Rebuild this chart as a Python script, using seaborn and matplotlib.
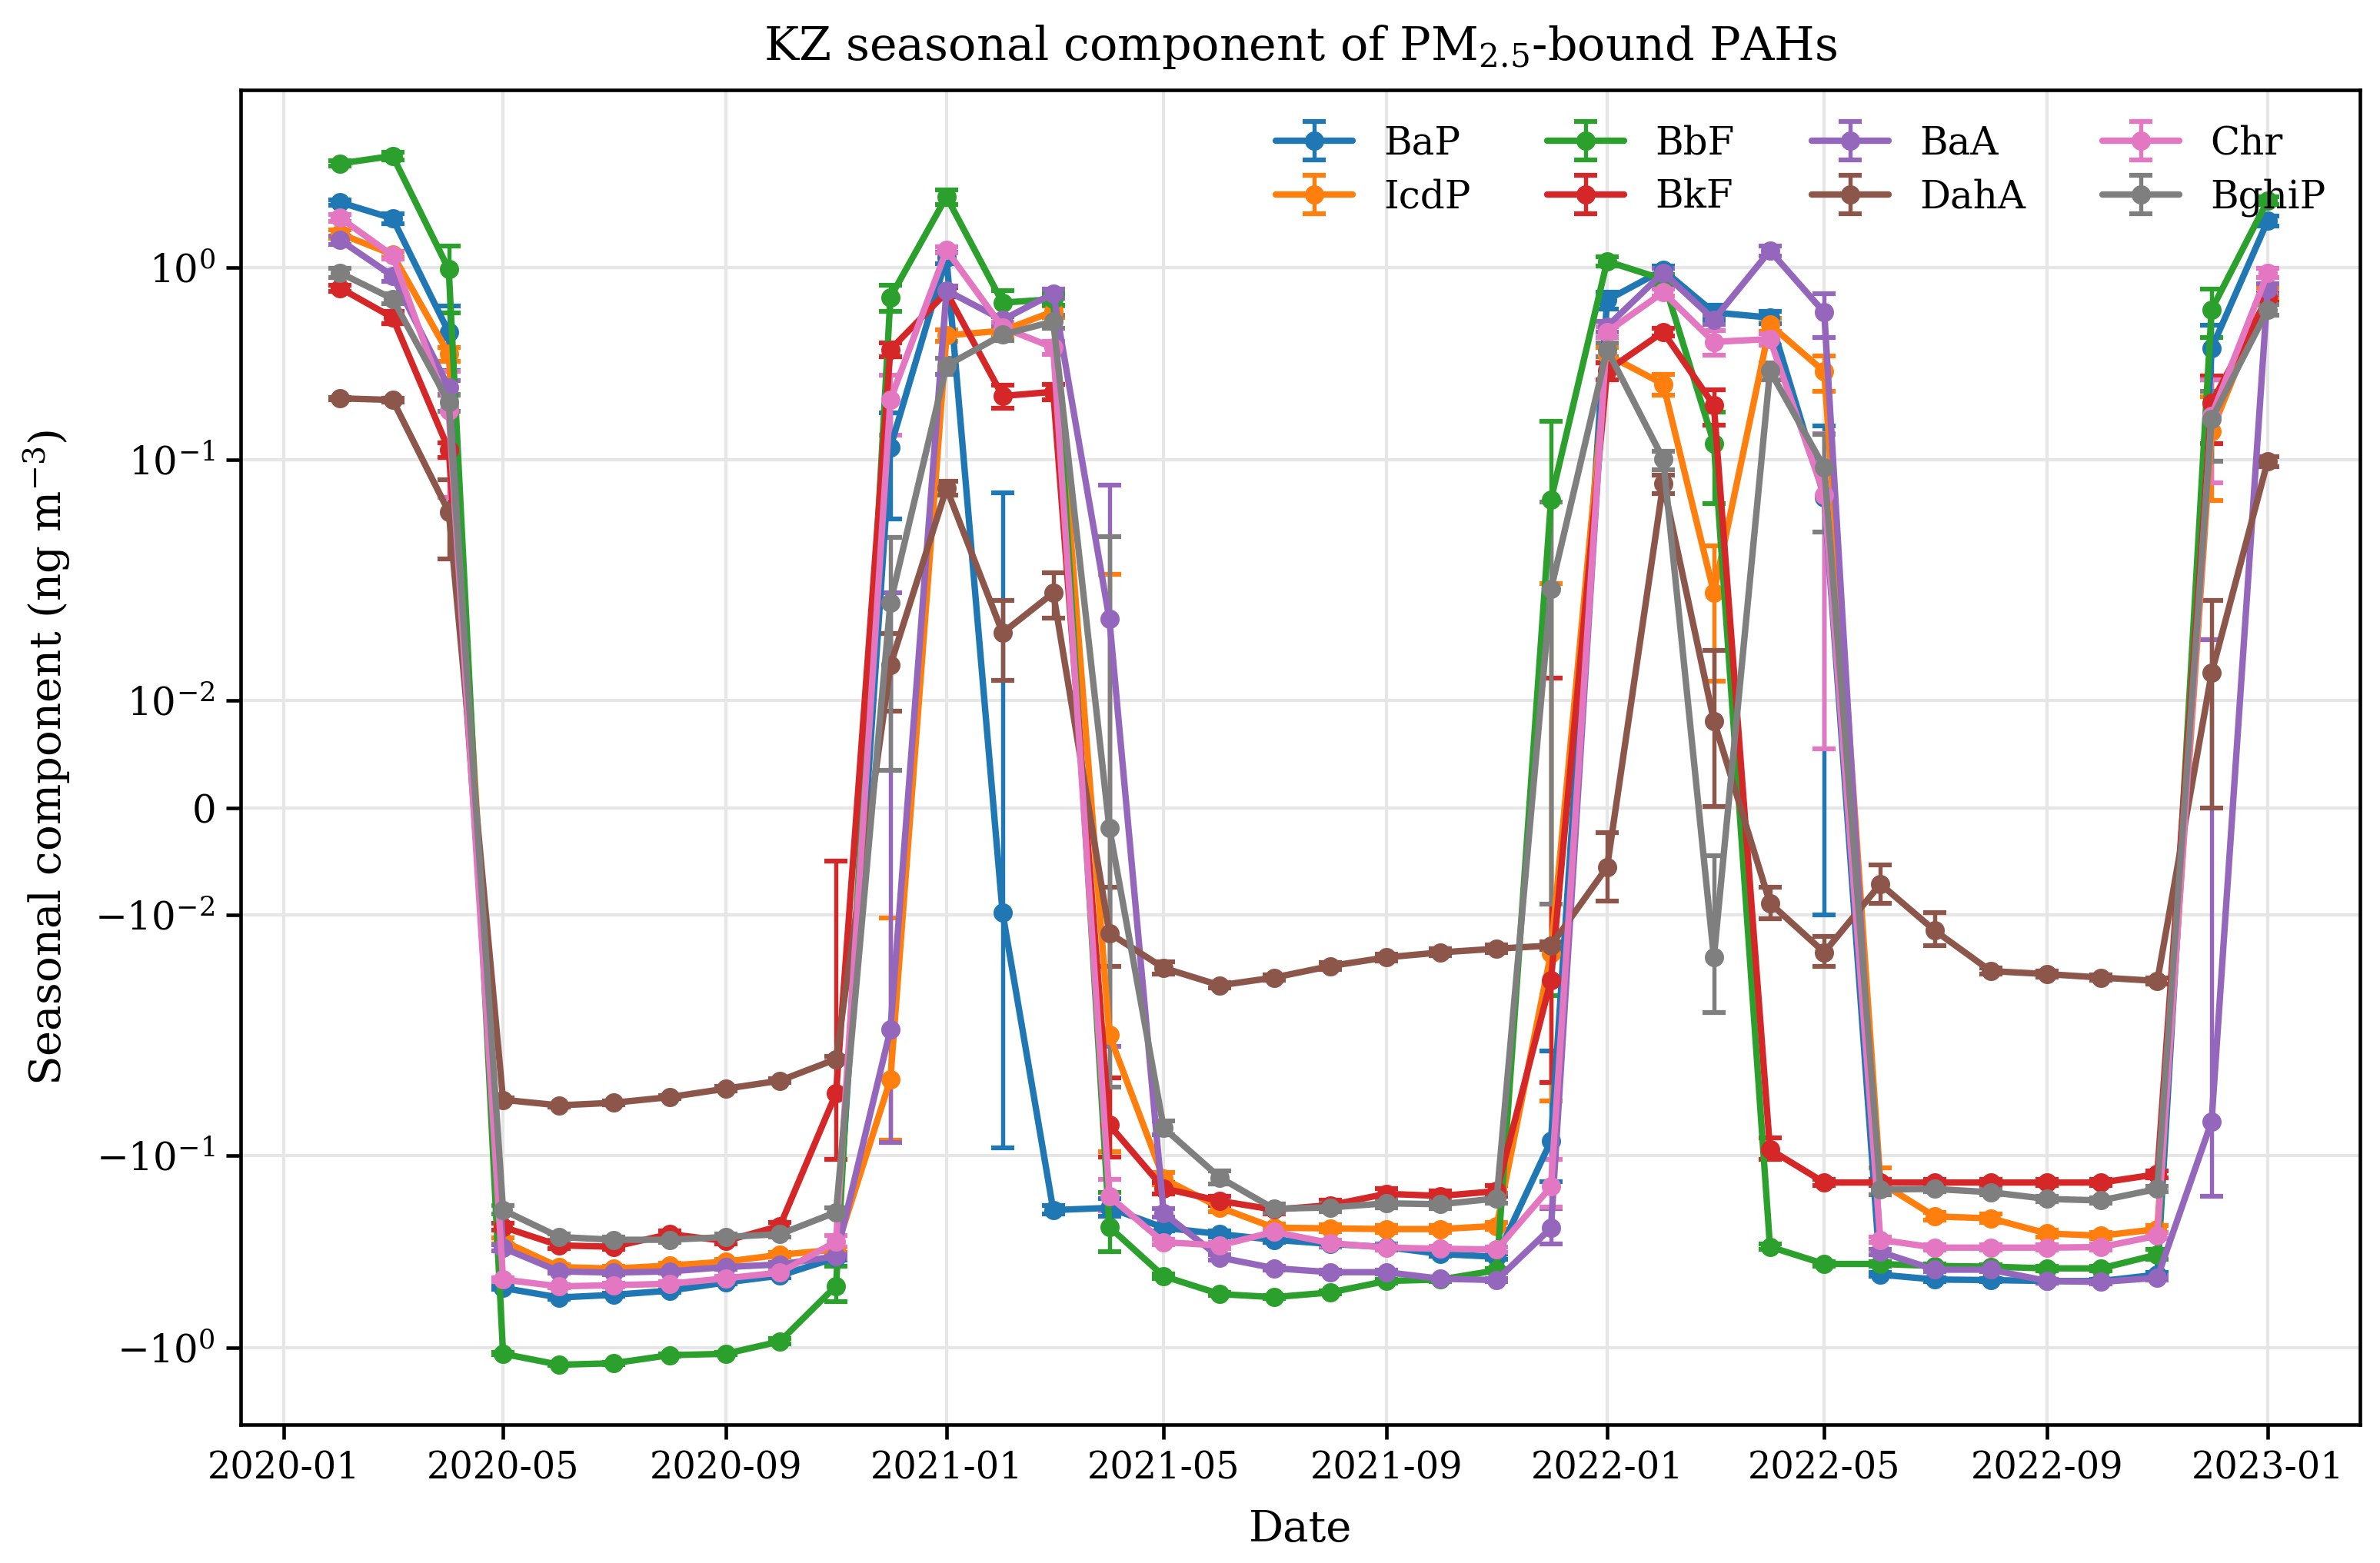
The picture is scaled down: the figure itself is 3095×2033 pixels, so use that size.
import numpy as np
import pandas as pd
import matplotlib
matplotlib.use("Agg")
import matplotlib.pyplot as plt
import matplotlib.dates as mdates
from matplotlib.ticker import FixedLocator, FuncFormatter, NullLocator
import seaborn as sns

# monthly KZ seasonal components (ng m-3), Feb 2020 .. Jan 2023
months = pd.date_range("2020-02-01", "2023-01-01", freq="MS")

BaP = [2.66, 2.09, 0.461, -0.488, -0.547, -0.530, -0.504, -0.457, -0.421, -0.340, 0.116, 1.16,
       -0.0098, -0.192, -0.187, -0.237, -0.256, -0.274, -0.288, -0.299, -0.325, -0.336, -0.0867, 0.678,
       0.973, 0.585, 0.55, 0.07, -0.416, -0.441, -0.444, -0.449, -0.449, -0.416, 0.380, 2.02]
IcdP = [1.66, 1.22, 0.356, -0.278, -0.380, -0.387, -0.373, -0.356, -0.328, -0.308, -0.0483, 0.444,
        0.470, 0.592, -0.0315, -0.132, -0.186, -0.237, -0.239, -0.241, -0.241, -0.232, -0.0144, 0.353,
        0.248, 0.028, 0.505, 0.288, -0.138, -0.207, -0.212, -0.254, -0.261, -0.241, 0.141, 0.738]
BbF = [4.76, 5.33, 0.98, -1.093, -1.288, -1.259, -1.116, -1.093, -0.926, -0.476, 0.701, 2.89,
       0.658, 0.685, -0.235, -0.424, -0.525, -0.545, -0.515, -0.449, -0.441, -0.395, 0.0684, 1.10,
       0.87, 0.122, -0.298, -0.366, -0.366, -0.375, -0.378, -0.386, -0.386, -0.327, 0.605, 2.74]
BkF = [0.783, 0.550, 0.113, -0.235, -0.293, -0.298, -0.256, -0.278, -0.232, -0.055, 0.375, 0.745,
       0.215, 0.226, -0.0745, -0.148, -0.172, -0.191, -0.181, -0.158, -0.162, -0.153, -0.0186, 0.291,
       0.463, 0.192, -0.0943, -0.138, -0.138, -0.138, -0.138, -0.138, -0.138, -0.125, 0.198, 0.699]
BaA = [1.51, 0.906, 0.238, -0.302, -0.400, -0.406, -0.400, -0.380, -0.368, -0.334, -0.030, 0.761,
       0.535, 0.735, 0.0218, -0.199, -0.339, -0.385, -0.404, -0.404, -0.437, -0.444, -0.238, 0.494,
       0.942, 0.537, 1.29, 0.585, -0.317, -0.392, -0.392, -0.449, -0.454, -0.432, -0.0721, 0.773]
DahA = [0.209, 0.205, 0.0608, -0.0586, -0.0618, -0.0603, -0.0571, -0.0527, -0.0488, -0.0397, 0.0140, 0.0762,
        0.0191, 0.028, -0.0119, -0.0166, -0.0196, -0.0182, -0.0163, -0.0150, -0.0143, -0.0138, -0.0134, -0.00553,
        0.0796, 0.0081, -0.00889, -0.0143, -0.00711, -0.0116, -0.0171, -0.0176, -0.0182, -0.0188, 0.013, 0.099]
Chr = [2.11, 1.20, 0.180, -0.441, -0.479, -0.472, -0.464, -0.435, -0.406, -0.280, 0.205, 1.30,
       0.489, 0.384, -0.163, -0.282, -0.293, -0.249, -0.285, -0.301, -0.305, -0.308, -0.145, 0.463,
       0.745, 0.411, 0.425, 0.0715, -0.274, -0.301, -0.301, -0.301, -0.299, -0.261, 0.170, 0.938]
BghiP = [0.938, 0.689, 0.199, -0.192, -0.265, -0.274, -0.274, -0.265, -0.256, -0.197, 0.0255, 0.309,
         0.448, 0.525, -0.0019, -0.0767, -0.130, -0.189, -0.186, -0.177, -0.179, -0.167, 0.029, 0.375,
         0.101, -0.015, 0.291, 0.093, -0.150, -0.149, -0.155, -0.168, -0.171, -0.149, 0.163, 0.605]

# error bars (same units)
BaP_err = [0.1, 0.15, 0.17, 0.01, 0.01, 0.01, 0.01, 0.01, 0.01, 0.01, 0.059, 0.1,
           0.083, 0.01, 0.02, 0.01, 0.01, 0.01, 0.01, 0.01, 0.01, 0.01, 0.05, 0.07,
           0.05, 0.05, 0.04, 0.08, 0.01, 0.01, 0.01, 0.01, 0.01, 0.01, 0.12, 0.15]
IcdP_err = [0.1, 0.05, 0.03, 0.01, 0.01, 0.01, 0.01, 0.01, 0.01, 0.01, 0.038, 0.03,
            0.03, 0.04, 0.065, 0.01, 0.01, 0.01, 0.01, 0.01, 0.01, 0.01, 0.045, 0.03,
            0.03, 0.016, 0.04, 0.06, 0.022, 0.01, 0.01, 0.01, 0.01, 0.01, 0.073, 0.05]
BbF_err = [0.2, 0.3, 0.4, 0.02, 0.02, 0.02, 0.02, 0.02, 0.03, 0.1, 0.11, 0.3,
           0.1, 0.05, 0.08, 0.01, 0.01, 0.01, 0.01, 0.01, 0.01, 0.01, 0.09, 0.08,
           0.05, 0.056, 0.01, 0.01, 0.01, 0.01, 0.01, 0.01, 0.01, 0.02, 0.17, 0.15]
BkF_err = [0.03, 0.04, 0.01, 0.01, 0.01, 0.01, 0.01, 0.01, 0.01, 0.05, 0.03, 0.04,
           0.03, 0.02, 0.027, 0.01, 0.01, 0.01, 0.01, 0.01, 0.01, 0.01, 0.031, 0.03,
           0.02, 0.04, 0.01, 0.005, 0.005, 0.005, 0.005, 0.005, 0.005, 0.005, 0.076, 0.04]
BaA_err = [0.1, 0.06, 0.02, 0.01, 0.01, 0.01, 0.01, 0.01, 0.01, 0.01, 0.058, 0.04,
           0.03, 0.04, 0.057, 0.01, 0.01, 0.01, 0.01, 0.01, 0.01, 0.01, 0.05, 0.03,
           0.05, 0.03, 0.1, 0.15, 0.01, 0.01, 0.01, 0.01, 0.01, 0.01, 0.09, 0.05]
DahA_err = [0.003, 0.005, 0.022, 0.001, 0.001, 0.001, 0.001, 0.001, 0.001, 0.001, 0.005, 0.005,
            0.007, 0.006, 0.0045, 0.001, 0.0005, 0.0005, 0.0005, 0.0005, 0.0005, 0.0005, 0.0005, 0.0032,
            0.007, 0.008, 0.0015, 0.002, 0.0018, 0.0018, 0.0005, 0.0005, 0.0005, 0.0005, 0.013, 0.005]
Chr_err = [0.1, 0.06, 0.11, 0.01, 0.01, 0.01, 0.01, 0.01, 0.01, 0.02, 0.07, 0.06,
           0.03, 0.03, 0.03, 0.01, 0.01, 0.01, 0.01, 0.01, 0.01, 0.01, 0.04, 0.03,
           0.03, 0.06, 0.03, 0.066, 0.01, 0.01, 0.01, 0.01, 0.01, 0.01, 0.09, 0.05]
BghiP_err = [0.05, 0.04, 0.02, 0.01, 0.01, 0.01, 0.01, 0.01, 0.01, 0.01, 0.022, 0.03,
             0.03, 0.04, 0.05, 0.005, 0.01, 0.01, 0.01, 0.01, 0.01, 0.01, 0.038, 0.03,
             0.01, 0.0105, 0.03, 0.043, 0.01, 0.005, 0.005, 0.005, 0.005, 0.005, 0.064, 0.04]

names = ["BaP", "IcdP", "BbF", "BkF", "BaA", "DahA", "Chr", "BghiP"]
series = [BaP, IcdP, BbF, BkF, BaA, DahA, Chr, BghiP]
errors = [BaP_err, IcdP_err, BbF_err, BkF_err, BaA_err, DahA_err, Chr_err, BghiP_err]

# symmetric log-like axis: linear inside +-0.01, then decades that get narrower
LOG_KNOTS = np.array([-2.0, -1.0, 0.0, 1.0, 4.0])
POS_KNOTS = np.array([139.5, 452.5, 702.5, 902.5, 1502.5])
LIN = 0.01


def fwd(v):
    v = np.asarray(v, dtype=float)
    a = np.abs(v)
    lg = np.log10(np.maximum(a, 1e-12))
    p = np.where(a < LIN, a / LIN * POS_KNOTS[0], np.interp(lg, LOG_KNOTS, POS_KNOTS))
    return np.sign(v) * p


def inv(p):
    p = np.asarray(p, dtype=float)
    a = np.abs(p)
    v = np.where(a < POS_KNOTS[0], a / POS_KNOTS[0] * LIN, 10 ** np.interp(a, POS_KNOTS, LOG_KNOTS))
    return np.sign(p) * v


def sym_fmt(y, pos):
    if y == 0:
        return r"$\mathdefault{0}$"
    e = int(round(np.log10(abs(y))))
    sign = "-" if y < 0 else ""
    return r"$\mathdefault{%s10^{%d}}$" % (sign, e)


sns.set_theme(style="ticks")
plt.rcParams.update({
    "font.family": "DejaVu Serif",
    "mathtext.fontset": "dejavuserif",
    "axes.edgecolor": "black",
    "axes.linewidth": 1.1,
    "axes.labelcolor": "black",
    "text.color": "black",
    "xtick.color": "black",
    "ytick.color": "black",
    "xtick.major.size": 4.5,
    "ytick.major.size": 4.5,
    "xtick.major.width": 1.1,
    "ytick.major.width": 1.1,
    "axes.grid": True,
    "grid.color": "#e6e6e6",
    "grid.linewidth": 1.0,
})

palette = sns.color_palette("tab10", 8)

fig, ax = plt.subplots(figsize=(3095 / 300, 2033 / 300), dpi=300)
fig.subplots_adjust(left=0.1011, right=0.9916, top=0.9424, bottom=0.0885)

ax.set_yscale("function", functions=(fwd, inv))

for name, vals, err, col in zip(names, series, errors, palette):
    ax.errorbar(months, vals, yerr=err, fmt="-o", color=col, lw=2.0, ms=5,
                capsize=3.5, elinewidth=1.3, capthick=1.5, label=name)

ax.set_ylim(-3.16, 14.3)
ax.set_xlim(pd.Timestamp("2019-12-08"), pd.Timestamp("2023-02-21"))
ax.yaxis.set_major_locator(FixedLocator([-1, -0.1, -0.01, 0, 0.01, 0.1, 1]))
ax.yaxis.set_minor_locator(NullLocator())
ax.yaxis.set_major_formatter(FuncFormatter(sym_fmt))
ax.xaxis.set_major_locator(mdates.MonthLocator(bymonth=[1, 5, 9]))
ax.xaxis.set_major_formatter(mdates.DateFormatter("%Y-%m"))
ax.tick_params(labelsize=11.5)
ax.tick_params(axis="y", labelsize=12)

ax.set_title("KZ seasonal component of PM$_{2.5}$-bound PAHs", fontsize=14.5, pad=9.5)
ax.set_xlabel("Date", fontsize=13.5, labelpad=7)
ax.set_ylabel("Seasonal component (ng m$^{-3}$)", fontsize=13.5, labelpad=7)

ax.legend(ncol=4, loc="upper right", frameon=False, fontsize=12,
          labelspacing=0.4, columnspacing=2.0, handletextpad=0.8)

fig.savefig("out.png", dpi=300)
